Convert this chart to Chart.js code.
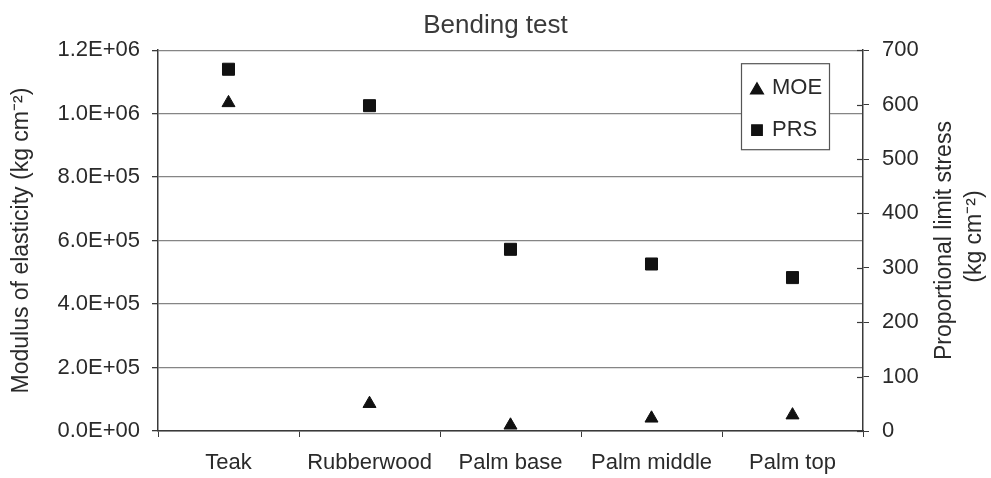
<!DOCTYPE html>
<html>
<head>
<meta charset="utf-8">
<script src="https://cdn.jsdelivr.net/npm/chart.js@4.4.1/dist/chart.umd.min.js"></script>
<style>
  html, body { margin: 0; padding: 0; background: #fff; }
  #contenedor { width: 991px; height: 478px; }
</style>
</head>
<body>
<div id="contenedor"><canvas id="grafica"></canvas></div>
<script>
// datos
const categorias = ["Teak", "Rubberwood", "Palm base", "Palm middle", "Palm top"];
const moe = [1.034e6, 8.6e4, 1.8e4, 4.0e4, 5.0e4];
const prs = [665, 598, 334, 307, 282];
const ticksIzq = ["0.0E+00", "2.0E+05", "4.0E+05", "6.0E+05", "8.0E+05", "1.0E+06", "1.2E+06"];
const ticksDer = ["0", "100", "200", "300", "400", "500", "600", "700"];

const fuente = "'Liberation Sans', Arial, sans-serif";
const colorTexto = "#2a2a2a";
const colorEje = "#3a3a3a";
const colorGrilla = "#858585";

// leyenda dentro del area y titulo del eje derecho (girado hacia arriba)
const extras = {
  id: "extras",
  afterDraw(chart) {
    const ctx = chart.ctx;
    const a = chart.chartArea;
    const y1 = chart.scales.y1;

    ctx.save();
    // marcas del eje derecho cruzando el eje
    ctx.strokeStyle = colorEje;
    ctx.lineWidth = 1.2;
    y1.ticks.forEach((t, i) => {
      const py = Math.round(y1.getPixelForTick(i)) + 0.5;
      ctx.beginPath();
      ctx.moveTo(a.right - 6, py);
      ctx.lineTo(a.right, py);
      ctx.stroke();
    });

    // caja de leyenda
    const bx = a.right - 122, by = a.top + 13, bw = 88, bh = 86;
    ctx.fillStyle = "#fff";
    ctx.fillRect(bx, by, bw, bh);
    ctx.strokeStyle = "#555";
    ctx.lineWidth = 1.2;
    ctx.strokeRect(bx + 0.5, by + 0.5, bw, bh);

    const filas = [
      { texto: "MOE", estilo: "triangle", r: 7.5, dy: 25 },
      { texto: "PRS", estilo: "rect", r: 7.5, dy: 67 }
    ];
    ctx.font = "22px " + fuente;
    ctx.textBaseline = "middle";
    ctx.textAlign = "left";
    filas.forEach(f => {
      ctx.fillStyle = "#111";
      ctx.strokeStyle = "#111";
      Chart.helpers.drawPoint(ctx, { pointStyle: f.estilo, radius: f.r, rotation: 0, borderWidth: 1 }, bx + 16, by + f.dy + (f.estilo === "triangle" ? 2 : 0));
      ctx.fillStyle = colorTexto;
      ctx.fillText(f.texto, bx + 31, by + f.dy);
    });

    // titulo eje derecho
    const cy = (a.top + a.bottom) / 2;
    ctx.fillStyle = colorTexto;
    ctx.textAlign = "center";
    ctx.font = "23px " + fuente;
    ctx.translate(a.right + 82, cy);
    ctx.rotate(-Math.PI / 2);
    ctx.fillText("Proportional limit stress", 0, 0);
    ctx.fillText("(kg cm\u207B\u00B2)", 4, 30);
    ctx.restore();
  }
};

new Chart(document.getElementById("grafica"), {
  type: "line",
  data: {
    labels: categorias,
    datasets: [
      {
        label: "MOE",
        data: moe,
        yAxisID: "y",
        showLine: false,
        pointStyle: "triangle",
        pointRadius: 7.5,
        pointBackgroundColor: "#111",
        pointBorderColor: "#111",
        pointBorderWidth: 1
      },
      {
        label: "PRS",
        data: prs,
        yAxisID: "y1",
        showLine: false,
        pointStyle: "rect",
        pointRadius: 8.5,
        pointBackgroundColor: "#111",
        pointBorderColor: "#111",
        pointBorderWidth: 1
      }
    ]
  },
  options: {
    responsive: true,
    maintainAspectRatio: false,
    animation: false,
    layout: { padding: 0 },
    plugins: {
      legend: { display: false },
      tooltip: { enabled: false },
      title: {
        display: true,
        text: "Bending test",
        color: "#3a3a3a",
        font: { family: fuente, size: 26, weight: "normal" },
        padding: { top: 10, bottom: 9 }
      }
    },
    scales: {
      x: {
        offset: true,
        grid: { offset: true, drawOnChartArea: false, tickLength: 6, tickColor: colorEje },
        border: { color: colorEje, width: 1.5 },
        ticks: { color: colorTexto, font: { family: fuente, size: 22 }, padding: 13, maxRotation: 0 },
        afterFit(s) { s.height = 47; }
      },
      y: {
        position: "left",
        min: 0,
        max: 1.2e6,
        ticks: {
          stepSize: 2e5,
          color: colorTexto,
          font: { family: fuente, size: 22 },
          padding: 12,
          callback: (v, i) => ticksIzq[i]
        },
        grid: { color: colorGrilla, lineWidth: 1.3, tickLength: 6, tickColor: colorEje },
        border: { color: colorEje, width: 1.5 },
        title: {
          display: true,
          text: "Modulus of elasticity (kg cm\u207B\u00B2)",
          color: colorTexto,
          font: { family: fuente, size: 23 },
          padding: { top: 8, bottom: 0 }
        },
        afterFit(s) { s.width = 158; }
      },
      y1: {
        position: "right",
        min: 0,
        max: 700,
        ticks: {
          stepSize: 100,
          color: colorTexto,
          font: { family: fuente, size: 22 },
          padding: 13,
          callback: (v, i) => ticksDer[i]
        },
        grid: { drawOnChartArea: false, tickLength: 6, tickColor: colorEje },
        border: { color: colorEje, width: 1.5 },
        afterFit(s) { s.width = 128; }
      }
    }
  },
  plugins: [extras]
});
</script>
</body>
</html>
